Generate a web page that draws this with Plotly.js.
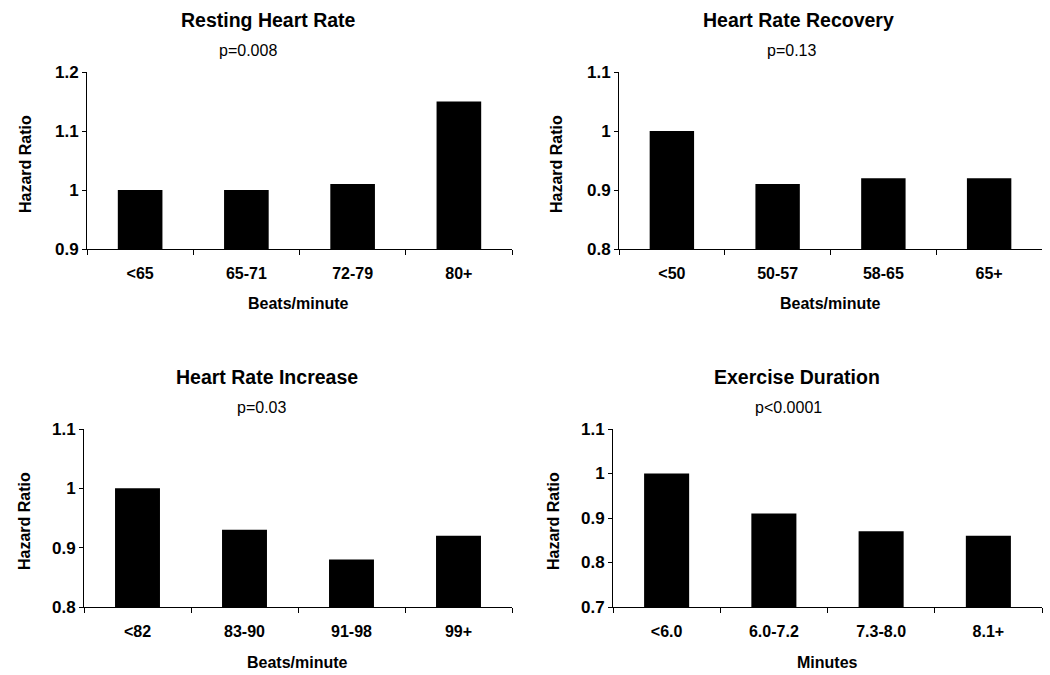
<!DOCTYPE html>
<html>
<head>
<meta charset="utf-8">
<script src="https://cdn.plot.ly/plotly-3.0.1.min.js"></script>
<style>html,body{margin:0;padding:0;background:#fff;}#chart{width:1050px;height:675px;}</style>
</head>
<body>
<div id="chart"></div>
<script>
// ---- Data ----
const panelTitles = ["Resting Heart Rate", "Heart Rate Recovery", "Heart Rate Increase", "Exercise Duration"];
const pValues = ["p=0.008", "p=0.13", "p=0.03", "p<0.0001"];
const xTitles = ["Beats/minute", "Beats/minute", "Beats/minute", "Minutes"];
const yTitle = "Hazard Ratio";

const catsResting = ["<65", "65-71", "72-79", "80+"];
const valsResting = [1.00, 1.00, 1.01, 1.15];

const catsRecovery = ["<50", "50-57", "58-65", "65+"];
const valsRecovery = [1.00, 0.91, 0.92, 0.92];

const catsIncrease = ["<82", "83-90", "91-98", "99+"];
const valsIncrease = [1.00, 0.93, 0.88, 0.92];

const catsDuration = ["<6.0", "6.0-7.2", "7.3-8.0", "8.1+"];
const valsDuration = [1.00, 0.91, 0.87, 0.86];

const yTickVals1 = [0.9, 1.0, 1.1, 1.2];
const yTickText1 = ["0.9", "1", "1.1", "1.2"];
const yTickVals2 = [0.8, 0.9, 1.0, 1.1];
const yTickText2 = ["0.8", "0.9", "1", "1.1"];
const yTickVals4 = [0.7, 0.8, 0.9, 1.0, 1.1];
const yTickText4 = ["0.7", "0.8", "0.9", "1", "1.1"];

// ---- Layout helpers ----
const W = 1050, H = 675;
const px = x => x / W;
const py = y => 1 - y / H;

const panels = [
  {cats: catsResting, vals: valsResting, range: [0.9, 1.2], tv: yTickVals1, tt: yTickText1,
   xd: [87, 512], yd: [72, 249], title: [268, 20], p: [248, 50], yt: [26, 164], xt: [298, 303]},
  {cats: catsRecovery, vals: valsRecovery, range: [0.8, 1.1], tv: yTickVals2, tt: yTickText2,
   xd: [619, 1042], yd: [72, 249], title: [798, 20], p: [791, 50], yt: [557, 164], xt: [830, 303]},
  {cats: catsIncrease, vals: valsIncrease, range: [0.8, 1.1], tv: yTickVals2, tt: yTickText2,
   xd: [84, 512], yd: [429, 607], title: [267, 377], p: [261, 407], yt: [24, 521], xt: [297, 662]},
  {cats: catsDuration, vals: valsDuration, range: [0.7, 1.1], tv: yTickVals4, tt: yTickText4,
   xd: [613, 1042], yd: [429, 607], title: [797, 377], p: [788, 407], yt: [553, 521], xt: [827, 662]}
];

const FONT = "Liberation Sans, Arial, sans-serif";
const traces = [];
const layout = {
  width: W, height: H,
  margin: {l: 0, r: 0, t: 0, b: 0},
  paper_bgcolor: "#fff", plot_bgcolor: "#fff",
  showlegend: false,
  bargap: 0.58,
  font: {family: FONT, color: "#000"},
  annotations: []
};

panels.forEach((p, i) => {
  const n = i === 0 ? "" : String(i + 1);
  traces.push({
    type: "bar",
    x: p.cats, y: p.vals,
    xaxis: "x" + n, yaxis: "y" + n,
    marker: {color: "#000", line: {color: "#000", width: 0}},
    hoverinfo: "x+y"
  });
  layout["xaxis" + n] = {
    domain: [px(p.xd[0]), px(p.xd[1])],
    anchor: "y" + n,
    type: "category",
    range: [-0.5, 3.5],
    showline: true, linecolor: "#000", linewidth: 1,
    ticks: "outside", tickson: "boundaries", ticklen: 5, tickcolor: "#000", tickwidth: 1,
    showgrid: false, zeroline: false,
    ticklabelstandoff: 10,
    tickfont: {family: FONT, size: 16, color: "#000", weight: "bold"},
    fixedrange: true
  };
  layout["yaxis" + n] = {
    domain: [py(p.yd[1]), py(p.yd[0])],
    anchor: "x" + n,
    range: p.range,
    tickvals: p.tv, ticktext: p.tt,
    showline: true, linecolor: "#000", linewidth: 1,
    ticks: "outside", ticklen: 4, tickcolor: "#000", tickwidth: 1,
    showgrid: false, zeroline: false,
    tickfont: {family: FONT, size: 17, color: "#000", weight: "bold"},
    fixedrange: true
  };
  layout.annotations.push(
    {text: panelTitles[i], xref: "paper", yref: "paper", x: px(p.title[0]), y: py(p.title[1]),
     xanchor: "center", yanchor: "middle", showarrow: false,
     font: {family: FONT, size: 19.5, color: "#000", weight: "bold"}},
    {text: pValues[i], xref: "paper", yref: "paper", x: px(p.p[0]), y: py(p.p[1]),
     xanchor: "center", yanchor: "middle", showarrow: false,
     font: {family: FONT, size: 16, color: "#000"}},
    {text: yTitle, xref: "paper", yref: "paper", x: px(p.yt[0]), y: py(p.yt[1]),
     xanchor: "center", yanchor: "middle", showarrow: false, textangle: -90,
     font: {family: FONT, size: 16, color: "#000", weight: "bold"}},
    {text: xTitles[i], xref: "paper", yref: "paper", x: px(p.xt[0]), y: py(p.xt[1]),
     xanchor: "center", yanchor: "middle", showarrow: false,
     font: {family: FONT, size: 16, color: "#000", weight: "bold"}}
  );
});

Plotly.newPlot("chart", traces, layout, {displayModeBar: false, staticPlot: true});
</script>
</body>
</html>
